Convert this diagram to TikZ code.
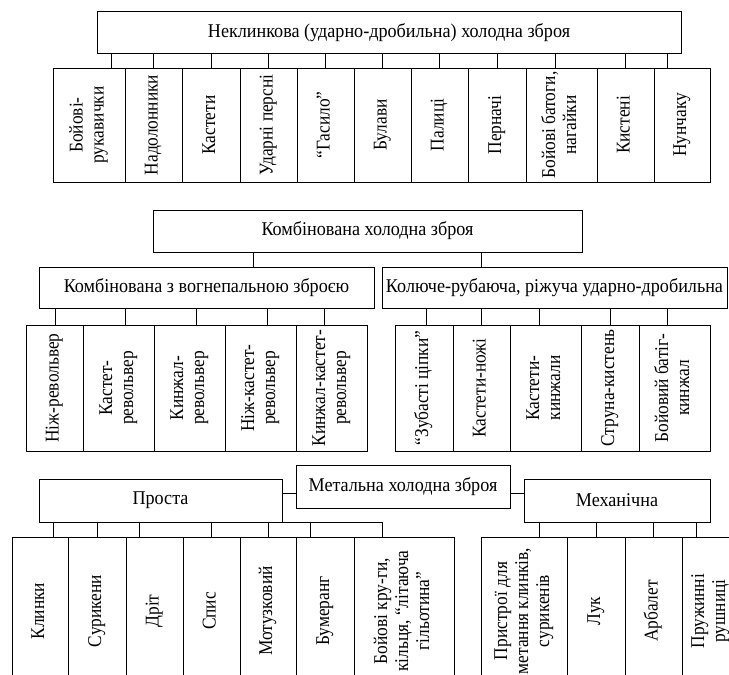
\documentclass[tikz,border=0pt]{standalone}
\usepackage{graphicx}
\usepackage{fontspec}
\setmainfont{Liberation Serif}
\newcommand{\hlab}[1]{\scalebox{0.93}[1]{#1}}
\newcommand{\vlab}[1]{\rotatebox{90}{\scalebox{0.89}[1]{\begin{tabular}{@{}c@{}}#1\end{tabular}}}}
\renewcommand{\arraystretch}{1}

\begin{document}
\begin{tikzpicture}[x=1pt,y=-1pt,line width=0.9pt,
        font=\fontsize{19.5}{21}\selectfont,
        head/.style={draw,inner sep=0pt,minimum height=42pt},
        leaf/.style={draw,inner sep=0pt}]
        \useasboundingbox (0,0) rectangle (729,675);

        \node[head, minimum width=584pt] (neklin) at (389,32.5) {\hlab{Неклинкова (ударно-дробильна) холодна зброя}};
        \node[leaf, minimum width=72pt, minimum height=114pt] (n1) at (89,125) {\vlab{Бойові-\\рукавички}};
        \node[leaf, minimum width=57pt, minimum height=114pt] (n2) at (153.5,125) {\vlab{Надолонники}};
        \node[leaf, minimum width=58pt, minimum height=114pt] (n3) at (211,125) {\vlab{Кастети}};
        \node[leaf, minimum width=57pt, minimum height=114pt] (n4) at (268.5,125) {\vlab{Ударні персні}};
        \node[leaf, minimum width=57pt, minimum height=114pt] (n5) at (325.5,125) {\vlab{“Гасило”}};
        \node[leaf, minimum width=57pt, minimum height=114pt] (n6) at (382.5,125) {\vlab{Булави}};
        \node[leaf, minimum width=57pt, minimum height=114pt] (n7) at (439.5,125) {\vlab{Палиці}};
        \node[leaf, minimum width=58pt, minimum height=114pt] (n8) at (497,125) {\vlab{Перначі}};
        \node[leaf, minimum width=71pt, minimum height=114pt] (n9) at (561.5,125) {\vlab{Бойові батоги,\\нагайки}};
        \node[leaf, minimum width=57pt, minimum height=114pt] (n10) at (625.5,125) {\vlab{Кистені}};
        \node[leaf, minimum width=56pt, minimum height=114pt] (n11) at (682,125) {\vlab{Нунчаку}};

        \draw (neklin.south -| 111,0) -- (n1.north -| 111,0);
        \draw (neklin.south -| n2.north) -- (n2.north);
        \draw (neklin.south -| n3.north) -- (n3.north);
        \draw (neklin.south -| n4.north) -- (n4.north);
        \draw (neklin.south -| n5.north) -- (n5.north);
        \draw (neklin.south -| n6.north) -- (n6.north);
        \draw (neklin.south -| n7.north) -- (n7.north);
        \draw (neklin.south -| n8.north) -- (n8.north);
        \draw (neklin.south -| 555,0) -- (n9.north -| 555,0);
        \draw (neklin.south -| n10.north) -- (n10.north);
        \draw (neklin.south -| 667,0) -- (n11.north -| 667,0);

        \node[head, minimum width=429pt] (komb) at (367.5,231) {\hlab{Комбінована холодна зброя}};
        \node[head, minimum width=335pt, minimum height=41pt] (vogn) at (206.5,287.5) {\hlab{Комбінована з вогнепальною зброєю}};
        \node[head, minimum width=345pt, minimum height=41pt] (koluch) at (554.5,287.5) {\hlab{Колюче-рубаюча, ріжуча ударно-дробильна}};
        \draw (komb.south -| 253,0) -- (vogn.north -| 253,0);
        \draw (komb.south -| 481,0) -- (koluch.north -| 481,0);

        \node[leaf, minimum width=57pt, minimum height=126pt] (v1) at (54.5,388) {\vlab{Ніж-револьвер}};
        \node[leaf, minimum width=71pt, minimum height=126pt] (v2) at (118.5,388) {\vlab{Кастет-\\револьвер}};
        \node[leaf, minimum width=71pt, minimum height=126pt] (v3) at (189.5,388) {\vlab{Кинжал-\\револьвер}};
        \node[leaf, minimum width=71pt, minimum height=126pt] (v4) at (260.5,388) {\vlab{Ніж-кастет-\\револьвер}};
        \node[leaf, minimum width=71pt, minimum height=126pt] (v5) at (331.5,388) {\vlab{Кинжал-кастет-\\револьвер}};
        \draw (vogn.south -| 55,0) -- (v1.north -| 55,0);
        \draw (vogn.south -| 125,0) -- (v2.north -| 125,0);
        \draw (vogn.south -| 196.5,0) -- (v3.north -| 196.5,0);
        \draw (vogn.south -| 267.5,0) -- (v4.north -| 267.5,0);
        \draw (vogn.south -| 324.5,0) -- (v5.north -| 324.5,0);

        \node[leaf, minimum width=58pt, minimum height=126pt] (k1) at (424,388) {\vlab{“Зубасті ціпки”}};
        \node[leaf, minimum width=57pt, minimum height=126pt] (k2) at (481.5,388) {\vlab{Кастети-ножі}};
        \node[leaf, minimum width=71pt, minimum height=126pt] (k3) at (545.5,388) {\vlab{Кастети-\\кинжали}};
        \node[leaf, minimum width=58pt, minimum height=126pt] (k4) at (610,388) {\vlab{Струна-кистень}};
        \node[leaf, minimum width=71pt, minimum height=126pt] (k5) at (674.5,388) {\vlab{Бойовий батіг-\\кинжал}};
        \draw (koluch.south -| 426.5,0) -- (k1.north -| 426.5,0);
        \draw (koluch.south -| k2.north) -- (k2.north);
        \draw (koluch.south -| 539,0) -- (k3.north -| 539,0);
        \draw (koluch.south -| k4.north) -- (k4.north);
        \draw (koluch.south -| 667,0) -- (k5.north -| 667,0);

        \node[head, minimum width=214pt, minimum height=43pt] (metal) at (403,486.5) {\hlab{Метальна холодна зброя}};
        \node[head, minimum width=243pt, minimum height=43pt] (prosta) at (160.5,500.5) {\hlab{Проста}};
        \node[head, minimum width=186pt, minimum height=43pt] (mech) at (617,500.5) {\hlab{Механічна}};
        \coordinate (mbus) at (0,493);
        \draw (prosta.east |- mbus) -- (metal.west |- mbus);
        \draw (metal.east |- mbus) -- (mech.west |- mbus);

        \node[leaf, minimum width=56pt, minimum height=148pt] (p1) at (40,611) {\vlab{Клинки}};
        \node[leaf, minimum width=58pt, minimum height=148pt] (p2) at (97,611) {\vlab{Сурикени}};
        \node[leaf, minimum width=57pt, minimum height=148pt] (p3) at (154.5,611) {\vlab{Дріт}};
        \node[leaf, minimum width=57pt, minimum height=148pt] (p4) at (211.5,611) {\vlab{Спис}};
        \node[leaf, minimum width=56pt, minimum height=148pt] (p5) at (268,611) {\vlab{Мотузковий}};
        \node[leaf, minimum width=58pt, minimum height=148pt] (p6) at (325,611) {\vlab{Бумеранг}};
        \node[leaf, minimum width=100pt, minimum height=148pt] (p7) at (404,611) {\vlab{Бойові кру-ги,\\кільця, “літаюча\\гільотина”}};
        \draw (prosta.south -| 53.5,0) -- (prosta.south -| 382.5,0);
        \draw (prosta.south -| 53.5,0) -- (p1.north -| 53.5,0);
        \draw (prosta.south -| p2.north) -- (p2.north);
        \draw (prosta.south -| 139.5,0) -- (p3.north -| 139.5,0);
        \draw (prosta.south -| p4.north) -- (p4.north);
        \draw (prosta.south -| p5.north) -- (p5.north);
        \draw (prosta.south -| 310.5,0) -- (p6.north -| 310.5,0);
        \draw (prosta.south -| 382.5,0) -- (p7.north -| 382.5,0);

        \node[leaf, minimum width=86pt, minimum height=148pt] (m1) at (524,611) {\vlab{Пристрої для\\метання клинків,\\сурикенів}};
        \node[leaf, minimum width=58pt, minimum height=148pt] (m2) at (596,611) {\vlab{Лук}};
        \node[leaf, minimum width=57pt, minimum height=148pt] (m3) at (653.5,611) {\vlab{Арбалет}};
        \node[leaf, minimum width=57pt, minimum height=148pt] (m4) at (710.5,611) {\vlab{Пружинні\\рушниці}};
        \draw (mech.south -| 539,0) -- (m1.north -| 539,0);
        \draw (mech.south -| m2.north) -- (m2.north);
        \draw (mech.south -| m3.north) -- (m3.north);
        \draw (mech.south -| 696,0) -- (m4.north -| 696,0);

    \end{tikzpicture}
\end{document}
